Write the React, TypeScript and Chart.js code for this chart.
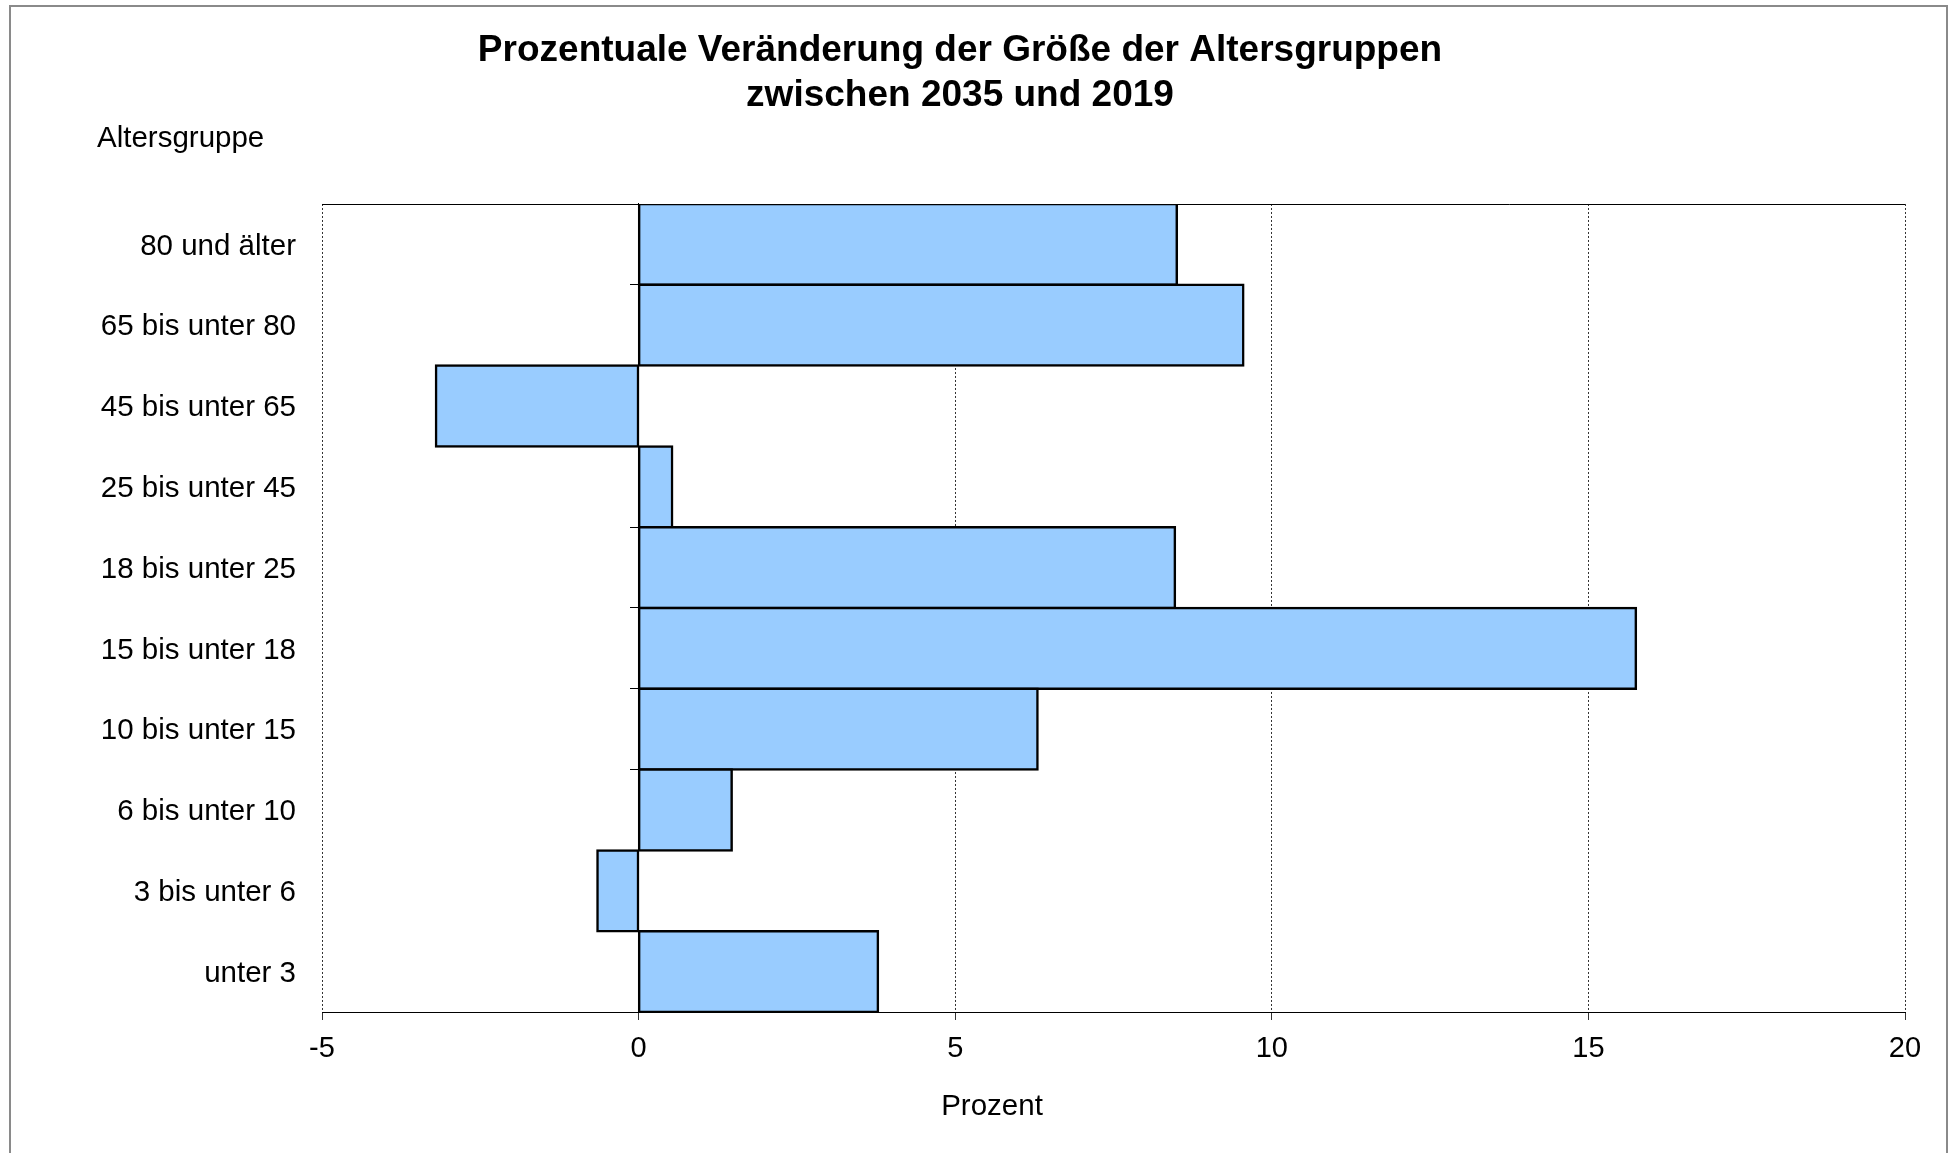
import React, { useEffect, useRef } from "react";
import { Chart, registerables } from "chart.js";

Chart.register(...registerables);

// ---- data ----
const TITLE_LINES = [
  "Prozentuale Veränderung der Größe der Altersgruppen",
  "zwischen 2035 und 2019",
];
const CATEGORY_AXIS_TITLE = "Altersgruppe";
const VALUE_AXIS_TITLE = "Prozent";

const AGE_GROUPS = [
  "80 und älter",
  "65 bis unter 80",
  "45 bis unter 65",
  "25 bis unter 45",
  "18 bis unter 25",
  "15 bis unter 18",
  "10 bis unter 15",
  "6 bis unter 10",
  "3 bis unter 6",
  "unter 3",
];
const CHANGE_PERCENT = [8.5, 9.55, -3.2, 0.53, 8.47, 15.75, 6.3, 1.47, -0.65, 3.78];

const X_MIN = -5;
const X_MAX = 20;
const X_STEP = 5;

// ---- styling ----
const FONT = '"Liberation Sans", Arial, Helvetica, sans-serif';
const BAR_FILL = "#99CCFF";
const LABEL_SIZE = 29.5;
const TICK_SIZE = 29;

const framePlugin = {
  id: "frameAndTexts",
  afterDraw(chart: any) {
    const { ctx, chartArea } = chart;
    ctx.save();
    // top frame line of the plot area
    ctx.strokeStyle = "#000";
    ctx.lineWidth = 1;
    ctx.beginPath();
    ctx.moveTo(chartArea.left, Math.round(chartArea.top) + 0.5);
    ctx.lineTo(chartArea.right, Math.round(chartArea.top) + 0.5);
    ctx.stroke();
    // axis captions
    ctx.fillStyle = "#000";
    ctx.font = `${LABEL_SIZE}px ${FONT}`;
    ctx.textBaseline = "middle";
    ctx.textAlign = "left";
    ctx.fillText(CATEGORY_AXIS_TITLE, 97, 139);
    ctx.textAlign = "center";
    ctx.fillText(VALUE_AXIS_TITLE, 992, 1107);
    ctx.restore();
  },
};

export default function App() {
  const canvasRef = useRef<HTMLCanvasElement | null>(null);

  useEffect(() => {
    if (!canvasRef.current) return;
    const chart = new Chart(canvasRef.current, {
      type: "bar",
      data: {
        labels: AGE_GROUPS,
        datasets: [
          {
            data: CHANGE_PERCENT,
            backgroundColor: BAR_FILL,
            borderColor: "#000",
            borderWidth: 2.5,
            borderSkipped: false,
            inflateAmount: 1.25,
            barPercentage: 1,
            categoryPercentage: 1,
            yAxisID: "y",
            xAxisID: "x",
          } as any,
        ],
      },
      options: {
        indexAxis: "y",
        responsive: false,
        animation: false,
        layout: { padding: 0 },
        plugins: {
          legend: { display: false },
          tooltip: { enabled: false },
          title: {
            display: true,
            text: TITLE_LINES,
            color: "#000",
            font: { family: FONT, size: 37, weight: "bold", lineHeight: 1.216 },
            padding: { top: 28, bottom: 86 },
          },
        },
        scales: {
          x: {
            type: "linear",
            position: "bottom",
            min: X_MIN,
            max: X_MAX,
            ticks: {
              stepSize: X_STEP,
              color: "#000",
              font: { family: FONT, size: TICK_SIZE },
              padding: 12,
            },
            grid: {
              display: true,
              color: "#333",
              lineWidth: 1,
              drawTicks: true,
              tickLength: 8,
              tickColor: "#333",
              tickWidth: 1,
              tickBorderDash: [],
            },
            border: { display: true, color: "#000", width: 1, dash: [2, 2] },
            afterFit: (s: any) => {
              s.height = 141;
              s.paddingRight = 15;
            },
          },
          y: {
            type: "category",
            position: "left",
            offset: true,
            grid: { display: false, drawTicks: false },
            border: { display: false },
            ticks: {
              color: "#000",
              font: { family: FONT, size: LABEL_SIZE },
              padding: 26,
              labelOffset: 2,
            },
            afterFit: (s: any) => {
              s.width = 322;
            },
          },
          y0: {
            type: "category",
            position: { x: 0 },
            offset: true,
            grid: {
              display: true,
              offset: true,
              drawOnChartArea: false,
              drawTicks: true,
              tickLength: 8,
              color: "#000",
              tickColor: (c: any) => (c.index === 0 ? "rgba(0,0,0,0)" : "#000"),
              lineWidth: 1,
            },
            border: { display: true, color: "#000", width: 1 },
            ticks: { display: false },
          },
        } as any,
      },
      plugins: [framePlugin],
    });
    return () => chart.destroy();
  }, []);

  return (
    <div
      style={{
        position: "fixed",
        left: 0,
        top: 0,
        width: 1955,
        height: 1153,
        overflow: "hidden",
        background: "#fff",
      }}
    >
      <div
        style={{
          position: "absolute",
          left: 9,
          top: 5,
          width: 1939,
          height: 1300,
          border: "2px solid #8a8a8a",
          boxSizing: "border-box",
        }}
      />
      <canvas
        ref={canvasRef}
        width={1920}
        height={1153}
        style={{ position: "absolute", left: 0, top: 0, display: "block" }}
      />
    </div>
  );
}
